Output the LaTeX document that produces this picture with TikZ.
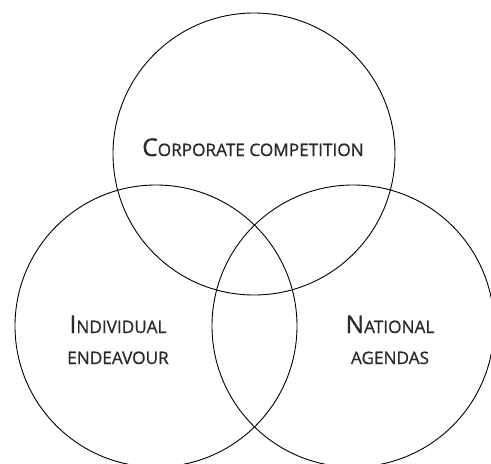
\documentclass[tikz,border=0pt]{standalone}
\usepackage{fontspec}
\setmainfont{Open Sans}[FakeBold=0.8]
\definecolor{labelgray}{HTML}{2A2A2A}
% hand-made small capitals: a large initial followed by smaller capitals
\newcommand\initialcap[1]{{\fontsize{24.5}{24.5}\selectfont #1}}
\newcommand\minorcaps[1]{{\fontsize{17.2}{17.2}\selectfont #1}}
\begin{document}
\begin{tikzpicture}[x=1pt,y=-1pt,
  ring/.style={circle, draw=black, line width=0.9pt, minimum size=282pt, inner sep=0pt},
  label/.style={text=labelgray, anchor=base, inner sep=0pt}]
\useasboundingbox (0,0) rectangle (491,464);
% the three overlapping circles
\node[ring] (corp) at (254,154) {};
\node[ring] (indiv) at (156,326) {};
\node[ring] (nat) at (353,326) {};
% labels
\node[label] (corptext) at (253,156) {\initialcap{C}\minorcaps{ORPORATE COMPETITION}};
\node[label] (indivtext1) at (118,333) {\initialcap{I}\minorcaps{NDIVIDUAL}};
\node[label] (indivtext2) at (118,364) {\minorcaps{ENDEAVOUR}};
\node[label] (nattext1) at (390,333) {\initialcap{N}\minorcaps{ATIONAL}};
\node[label] (nattext2) at (390,364) {\minorcaps{AGENDAS}};
\end{tikzpicture}
\end{document}
